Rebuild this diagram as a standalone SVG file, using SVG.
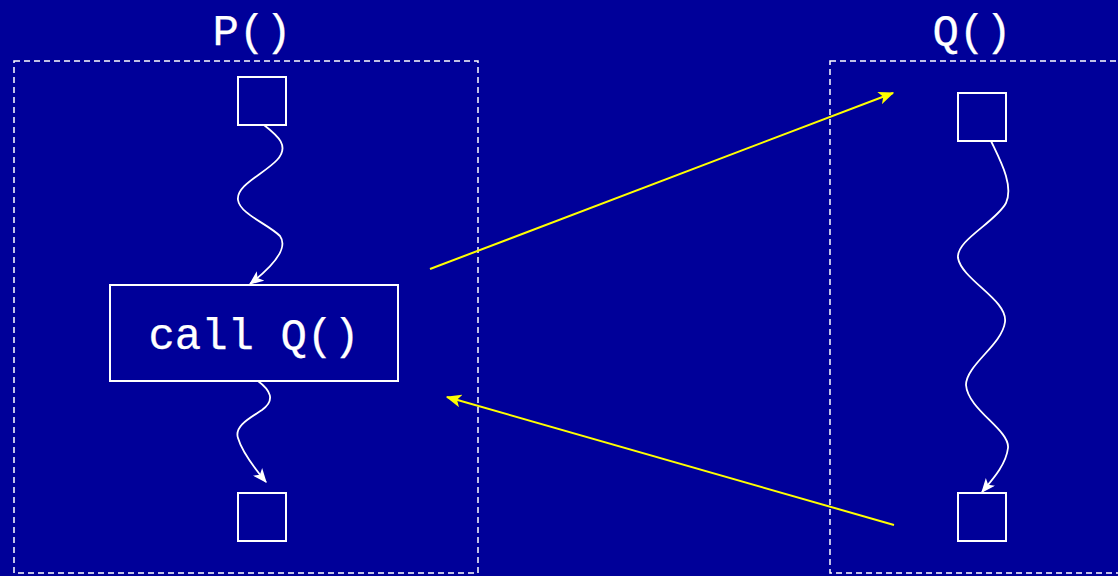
<svg xmlns="http://www.w3.org/2000/svg" width="1118" height="576" viewBox="0 0 1118 576">
<style>
.bg{fill:#000099}
.frame{fill:none;stroke:#fff;stroke-width:1.5;stroke-dasharray:6,4}
.box{fill:none;stroke:#fff;stroke-width:2}
.t{fill:#fff;font-family:"Liberation Mono","DejaVu Sans Mono",monospace;font-size:44px;text-anchor:middle;stroke:#fff;stroke-width:0.25}
.w{fill:none;stroke:#fff;stroke-width:1.8}
.y{fill:none;stroke:#ffff00;stroke-width:2}
</style>
<defs>
<marker id="aw" viewBox="0 0 12 10" refX="11" refY="5" markerWidth="15" markerHeight="12" markerUnits="userSpaceOnUse" orient="auto">
<path d="M0,0 L12,5 L0,10 L3,5 Z" fill="#fff"/>
</marker>
<marker id="ay" viewBox="0 0 12 10" refX="11" refY="5" markerWidth="16" markerHeight="13" markerUnits="userSpaceOnUse" orient="auto">
<path d="M0,0 L12,5 L0,10 L3,5 Z" fill="#ffff00"/>
</marker>
</defs>
<rect class="bg" x="0" y="0" width="1118" height="576"/>
<g id="procP">
<rect class="frame" x="14" y="61" width="464" height="512"/>
<text class="t" x="252" y="45">P()</text>
</g>
<g id="procQ">
<rect class="frame" x="830" y="61" width="320" height="512"/>
<text class="t" x="972" y="45">Q()</text>
</g>
<g id="p-start"><rect class="box" x="238" y="77" width="48" height="48"/></g>
<g id="p-call"><rect class="box" x="110" y="285" width="288" height="96"/><text class="t" x="254" y="349">call Q()</text></g>
<g id="p-end"><rect class="box" x="238" y="493" width="48" height="48"/></g>
<g id="q-start"><rect class="box" x="958" y="93" width="48" height="48"/></g>
<g id="q-end"><rect class="box" x="958" y="493" width="48" height="48"/></g>
<g id="connectors">
<path class="w" marker-end="url(#aw)" d="M264,125 C278,136 290,146 277,160 C264,174 236,185 238,200 C240,214 268,224 280,236 C290,250 268,270 250,284"/>
<path class="w" marker-end="url(#aw)" d="M258,381 C270,390 276,400 262,410 C250,418 234,426 238,438 C242,452 256,470 266,482"/>
<path class="w" marker-end="url(#aw)" d="M991,141 C1000,160 1014,185 1006,203 C996,222 956,240 958,258 C962,280 1008,300 1005,322 C1002,345 966,365 966,385 C968,410 1010,430 1008,448 C1006,465 992,480 982,492"/>
<path class="y" marker-end="url(#ay)" d="M430,269 L893,93"/>
<path class="y" marker-end="url(#ay)" d="M894,525 L447,397"/>
</g>
</svg>
